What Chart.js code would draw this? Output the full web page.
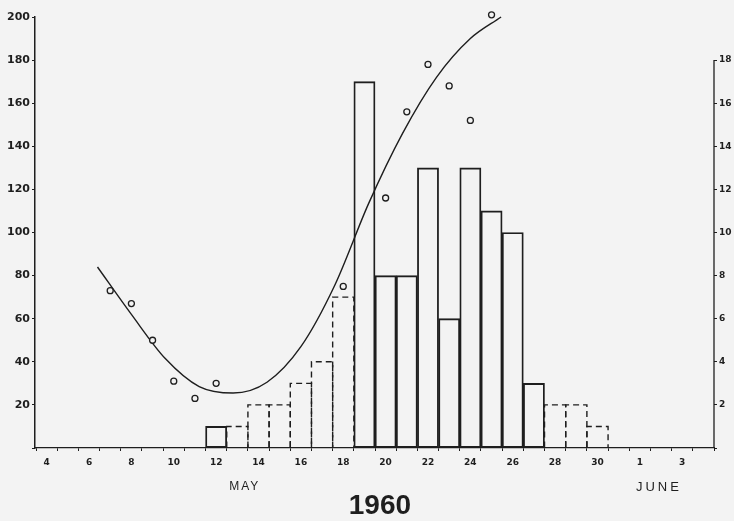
<!DOCTYPE html>
<html><head><meta charset="utf-8">
<script src="https://cdn.jsdelivr.net/npm/chart.js@4.4.0/dist/chart.umd.min.js"></script>
<style>html,body{margin:0;padding:0;background:#f3f3f3;}#wrap{width:734px;height:521px;position:relative;}</style>
</head><body><div id="wrap"><canvas id="c"></canvas></div>
<script>
// Histogram (right axis, counts per day; May days, June 1 = 32)
const solidDays   = [12, 19, 20, 21, 22, 23, 24, 25, 26, 27];
const solidCounts = [1, 17, 8, 8, 13, 6, 13, 11, 10, 3];
const dashedDays   = [13, 14, 15, 16, 17, 18, 28, 29, 30];
const dashedCounts = [1, 2, 2, 3, 4, 7, 2, 2, 1];
// Fitted curve (left axis)
const curveDays   = [6.4, 8.0, 9.6, 11.2, 12.8, 14.4, 16.0, 17.6, 19.2, 20.8, 22.4, 24.0, 25.45];
const curveValues = [84, 62, 41.5, 28.5, 25.5, 30.5, 47, 75.5, 113.5, 146, 172, 190, 200];
// Observed points (left axis)
const obsDays   = [7, 8, 9, 10, 11, 12, 18, 20, 21, 22, 23, 24, 25];
const obsValues = [73, 67, 50, 31, 23, 30, 75, 116, 156, 178, 168, 152, 201];
// X tick labels
const xTickDays = [4, 6, 8, 10, 12, 14, 16, 18, 20, 22, 24, 26, 28, 30, 32, 34];
const xTickText = ['4', '6', '8', '10', '12', '14', '16', '18', '20', '22', '24', '26', '28', '30', '1', '3'];
const xMarkDays = [4,5,6,7,8,9,10,11,12,13,14,15,16,17,18,19,20,21,22,23,24,25,26,27,28,29,30,31,32,33,34,35];
const monthLabels = ['MAY', 'JUNE'];
const monthDays = [13.35, 32.9];
const yearLabel = '1960';

const INK = '#1e1e1e';
const BG = '#f3f3f3';
const zip = (a, b) => a.map((v, i) => ({x: v, y: b[i]}));

const dashedBarPlugin = {
  id: 'dashedBars',
  afterDatasetDraw(chart, args) {
    if (chart.data.datasets[args.index].id !== 'dashed') return;
    const ctx = chart.ctx;
    ctx.save();
    ctx.strokeStyle = INK;
    ctx.lineWidth = 1.4;
    ctx.setLineDash([6, 4]);
    args.meta.data.forEach(el => {
      const p = el.getProps(['x', 'y', 'base', 'width'], true);
      const l = p.x - p.width / 2, r = p.x + p.width / 2;
      ctx.beginPath();
      ctx.moveTo(l, p.base); ctx.lineTo(l, p.y); ctx.lineTo(r, p.y); ctx.lineTo(r, p.base);
      ctx.stroke();
    });
    ctx.restore();
  }
};

const decorPlugin = {
  id: 'decor',
  beforeDraw(chart) {
    const ctx = chart.ctx;
    ctx.save(); ctx.fillStyle = BG; ctx.fillRect(0, 0, chart.width, chart.height); ctx.restore();
  },
  afterDraw(chart) {
    const ctx = chart.ctx, xs = chart.scales.x, y2 = chart.scales.y2;
    ctx.save();
    ctx.strokeStyle = INK; ctx.lineWidth = 1.3;
    ctx.beginPath();
    ctx.moveTo(chart.chartArea.right, y2.getPixelForValue(0));
    ctx.lineTo(chart.chartArea.right, y2.getPixelForValue(18));
    ctx.stroke();
    ctx.fillStyle = INK;
    ctx.textAlign = 'center'; ctx.textBaseline = 'middle';
    ctx.font = '12px "Liberation Sans"';
    try { ctx.letterSpacing = '2px'; } catch (e) {}
    ctx.fillText(monthLabels[0], xs.getPixelForValue(monthDays[0]), 487);
    ctx.font = '13px "Liberation Sans"';
    try { ctx.letterSpacing = '3px'; } catch (e) {}
    ctx.fillText(monthLabels[1], xs.getPixelForValue(monthDays[1]), 487);
    try { ctx.letterSpacing = '0px'; } catch (e) {}
    ctx.font = 'bold 28px "Liberation Sans"';
    ctx.fillText(yearLabel, xs.getPixelForValue(19.73), 506);
    ctx.restore();
  }
};

new Chart(document.getElementById('c'), {
  type: 'bar',
  data: {
    datasets: [
      { id: 'obs', type: 'line', label: 'obs', yAxisID: 'y', data: zip(obsDays, obsValues), showLine: false,
        pointRadius: 3, pointBorderWidth: 1.3, pointBorderColor: INK, pointBackgroundColor: BG, order: 0, clip: false },
      { id: 'curve', type: 'line', label: 'curve', yAxisID: 'y', data: zip(curveDays, curveValues),
        borderColor: INK, borderWidth: 1.4, pointRadius: 0, cubicInterpolationMode: 'monotone', fill: false, order: 1, clip: false },
      { id: 'solid', label: 'solid', yAxisID: 'y2', data: zip(solidDays, solidCounts),
        backgroundColor: 'rgba(0,0,0,0)', borderColor: INK, borderWidth: 1.2, borderSkipped: false,
        categoryPercentage: 1, barPercentage: 1, grouped: false, order: 2 },
      { id: 'dashed', label: 'dashed', yAxisID: 'y2', data: zip(dashedDays, dashedCounts),
        backgroundColor: 'rgba(0,0,0,0)', borderWidth: 0,
        categoryPercentage: 1, barPercentage: 1, grouped: false, order: 3 }
    ]
  },
  options: {
    responsive: true, maintainAspectRatio: false, animation: false,
    layout: { padding: { top: 17, left: 0, right: 0, bottom: 0 } },
    plugins: { legend: { display: false }, tooltip: { enabled: false } },
    scales: {
      x: {
        type: 'linear', min: 3.45, max: 35.5, offset: false,
        afterBuildTicks: s => { s.ticks = xMarkDays.map(v => ({ value: v })); },
        afterFit: s => { s.height = 73; },
        grid: { drawOnChartArea: false, tickLength: 3, color: INK, lineWidth: 1 },
        border: { color: INK, width: 1.3, dash: [6, 3] },
        ticks: {
          autoSkip: false, maxRotation: 0, padding: 6, color: INK,
          font: { family: '"DejaVu Sans"', weight: 'bold', size: 9 },
          callback: v => { const i = xTickDays.indexOf(v); return i >= 0 ? xTickText[i] : ''; }
        }
      },
      y: {
        position: 'left', min: 0, max: 200,
        afterFit: s => { s.width = 35; },
        grid: { drawOnChartArea: false, tickLength: 3, color: INK },
        border: { color: INK, width: 1.5 },
        ticks: { stepSize: 20, padding: 2, color: INK,
          font: { family: '"DejaVu Sans"', weight: 'bold', size: 11 },
          callback: v => v === 0 ? '' : v }
      },
      y2: {
        position: 'right', min: 0, max: 20,
        afterFit: s => { s.width = 20; },
        grid: { drawOnChartArea: false, tickLength: 3, color: c => (c.tick && c.tick.value >= 20) ? 'rgba(0,0,0,0)' : INK },
        border: { display: false },
        ticks: { stepSize: 2, padding: 2, color: INK,
          font: { family: '"DejaVu Sans"', weight: 'bold', size: 9 },
          callback: v => (v === 0 || v === 20) ? '' : v }
      }
    }
  },
  plugins: [dashedBarPlugin, decorPlugin]
});
</script></body></html>
